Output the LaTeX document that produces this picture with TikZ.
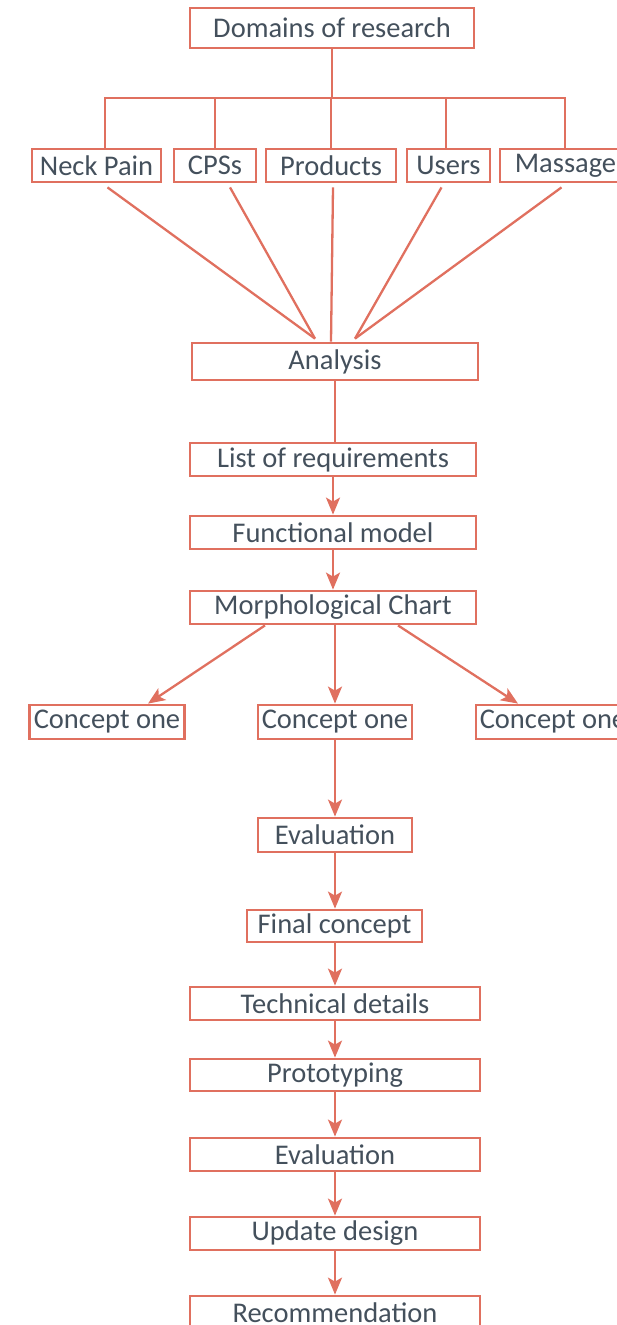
\documentclass[tikz,border=0pt]{standalone}
\usepackage{fontspec}
\setmainfont{Carlito}
\usetikzlibrary{arrows.meta,calc}
\definecolor{ln}{HTML}{E0705F}
\definecolor{tx}{HTML}{44505C}
\begin{document}
\begin{tikzpicture}[x=1pt,y=-1pt,
  box/.style={draw=ln,line width=2.8pt,inner sep=0pt,text=tx,
    font=\fontsize{28.5}{34}\selectfont,anchor=center},
  con/.style={draw=ln,line width=2.3pt},
  arr/.style={con,-{Stealth[length=17pt,width=14pt,inset=4pt]}}]
\useasboundingbox (0,0) rectangle (617,1325);
\clip (0,0) rectangle (617,1325);
\node[box,minimum width=284pt,minimum height=40pt] (dom) at (332,28) {Domains of research};
\node[box,minimum width=129pt,minimum height=33pt] (neck) at (96.5,165.5) {Neck Pain};
\node[box,minimum width=82pt,minimum height=33pt] (cps) at (215,165.5) {CPSs};
\node[box,minimum width=130pt,minimum height=33pt] (prod) at (331,165.5) {Products};
\node[box,minimum width=83pt,minimum height=33pt] (users) at (448.5,165.5) {Users};
\node[box,minimum width=131pt,minimum height=33pt] (mass) at (565.5,165.5) {Massage};
\node[box,minimum width=286pt,minimum height=37pt] (ana) at (335,361.5) {Analysis};
\node[box,minimum width=286pt,minimum height=33pt] (list) at (333,459.5) {List of requirements};
\node[box,minimum width=286pt,minimum height=33pt] (func) at (333,532.5) {Functional model};
\node[box,minimum width=286pt,minimum height=33pt] (morph) at (333,607.5) {Morphological Chart};
\node[box,minimum width=155pt,minimum height=34pt] (cl) at (107,722) {Concept one};
\node[box,minimum width=154pt,minimum height=34pt] (cm) at (335,722) {Concept one};
\node[box,minimum width=154pt,minimum height=34pt] (cr) at (553,722) {Concept one};
\node[box,minimum width=154pt,minimum height=34pt] (ev1) at (335,835) {Evaluation};
\node[box,minimum width=175pt,minimum height=32pt] (fin) at (334.5,926) {Final concept};
\node[box,minimum width=290pt,minimum height=33pt] (tech) at (335,1003.5) {Technical details};
\node[box,minimum width=290pt,minimum height=32pt] (proto) at (335,1075) {Prototyping};
\node[box,minimum width=290pt,minimum height=33pt] (ev2) at (335,1154.5) {Evaluation};
\node[box,minimum width=290pt,minimum height=33pt] (upd) at (335,1233.5) {Update design};
\node[box,minimum width=290pt,minimum height=33pt] (rec) at (335,1312.5) {Recommendation};
% bus
\coordinate (busL) at (105,98);
\coordinate (busR) at (565,98);
\coordinate (busU) at (446,98);
\draw[con] (dom.south) -- (dom.south |- busL);
\draw[con] (busL |- neck.north) -- (busL) -- (busR) -- (busR |- mass.north);
\draw[con] (cps.north) -- (cps.north |- busL);
\draw[con] (prod.north) -- (prod.north |- busL);
\draw[con] (busU |- users.north) -- (busU);
% to analysis
\coordinate (aL) at ($(ana.north)+(-20,-3)$);
\coordinate (aR) at ($(ana.north)+(20,-3)$);
\draw[con] ($(neck.south)+(11,4)$) -- (aL);
\draw[con] ($(cps.south)+(15,4)$) -- (aL);
\draw[con] ($(prod.south)+(2,4)$) -- (prod.south |- ana.north);
\draw[con] ($(users.south)+(-7,4)$) -- (aR);
\draw[con] ($(mass.south)+(-4,4)$) -- (aR);
\draw[con] (ana.south) -- (ana.south |- list.north);
\draw[arr] (list.south) -- (func.north);
\draw[arr] (func.south) -- (morph.north);
\draw[arr] ($(morph.south)+(-68,0)$) -- ($(cl.north)+(41,0)$);
\draw[arr] (morph.south -| cm.north) -- (cm.north);
\draw[arr] ($(morph.south)+(65,0)$) -- ($(cr.north)+(-35,0)$);
\draw[arr] (cm.south) -- (ev1.north);
\draw[arr] (ev1.south) -- (ev1.south |- fin.north);
\draw[arr] (fin.south -| tech.north) -- (tech.north);
\draw[arr] (tech.south) -- (proto.north);
\draw[arr] (proto.south) -- (ev2.north);
\draw[arr] (ev2.south) -- (upd.north);
\draw[arr] (upd.south) -- (rec.north);
\end{tikzpicture}
\end{document}
